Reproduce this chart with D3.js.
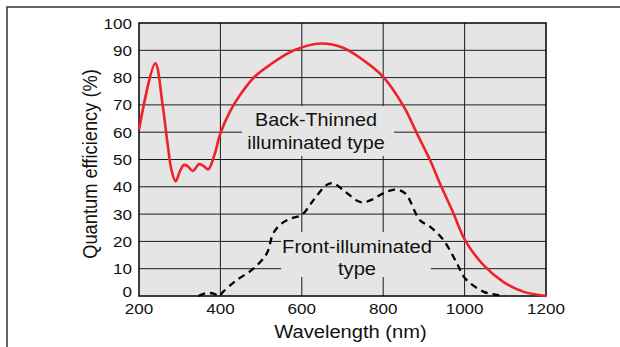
<!DOCTYPE html>
<html>
<head>
<meta charset="utf-8">
<script src="https://cdn.jsdelivr.net/npm/d3@7"></script>
<style>
  html, body { margin: 0; padding: 0; background: #fff; }
  svg { display: block; }
  text { font-family: "Liberation Sans", Arial, Helvetica, sans-serif; fill: #111; }
</style>
</head>
<body>
<svg id="chart" width="620" height="347"></svg>
<script>
// Spectral response of back-thinned vs front-illuminated CCDs
const backWavelength = [200, 240, 258, 270, 280, 290, 300, 310, 320, 332, 348, 360, 370, 385, 400, 425, 450, 484, 520, 581, 647, 700, 750, 800, 851, 884, 915, 940, 972, 1001, 1046, 1095, 1144, 1200];
const backQE         = [61, 85.2, 70, 56, 46, 42, 45.5, 48, 47.5, 45.8, 48.3, 47.5, 46.4, 51.5, 59.6, 68, 74, 80.3, 84.5, 90, 92.5, 91, 86.5, 80.3, 69.3, 59.2, 49.8, 41, 30.5, 20.5, 11.4, 5.2, 1.6, 0];

const frontWavelength = [346, 366, 385, 397, 407, 440, 481, 514, 530, 551, 575, 600, 628, 661, 677, 702, 735, 751, 775, 800, 829, 854, 890, 915, 948, 981, 1001, 1046, 1075, 1099];
const frontQE         = [0, 1.1, 0.8, 0, 1.6, 5.8, 10, 15.6, 23, 26.6, 28.5, 29.7, 35, 40.7, 41.3, 38.8, 35, 34.3, 35.5, 37.6, 39, 37.6, 27.8, 25.4, 20.5, 12, 6.5, 1.6, 0.5, 0];

const xTicks = [200, 400, 600, 800, 1000, 1200];
const yTicks = [0, 10, 20, 30, 40, 50, 60, 70, 80, 90, 100];

const xTitle = "Wavelength (nm)";
const yTitle = "Quantum efficiency (%)";
const backLabel = ["Back-Thinned", "illuminated type"];
const frontLabel = ["Front-illuminated", "type"];

const svg = d3.select("#chart");
const plot = { left: 139, right: 546, top: 23, bottom: 296 };
const stretch = 1.1; // type is set slightly wide

const x = d3.scaleLinear().domain([200, 1200]).range([plot.left, plot.right]);
const y = d3.scaleLinear().domain([0, 100]).range([plot.bottom, plot.top]);

// outer frame
svg.append("rect")
  .attr("x", 7).attr("y", 7).attr("width", 640).attr("height", 360)
  .attr("fill", "none").attr("stroke", "#333").attr("stroke-width", 1.5);

// plot background
svg.append("rect")
  .attr("x", plot.left).attr("y", plot.top)
  .attr("width", plot.right - plot.left).attr("height", plot.bottom - plot.top)
  .attr("fill", "#e5e5e5");

// grid
const grid = svg.append("g").attr("stroke", "#1c1c1c").attr("stroke-width", 1);
grid.selectAll("line.v").data(xTicks.slice(1, -1)).join("line")
  .attr("x1", d => x(d)).attr("x2", d => x(d))
  .attr("y1", plot.top).attr("y2", plot.bottom);
grid.selectAll("line.h").data(yTicks.slice(1, -1)).join("line")
  .attr("x1", plot.left).attr("x2", plot.right)
  .attr("y1", d => y(d)).attr("y2", d => y(d));

// stretched text helper
function label(g, tx, ty, str, size, anchor) {
  return g.append("text")
    .attr("transform", `translate(${tx},${ty}) scale(${stretch},1)`)
    .attr("text-anchor", anchor || "middle")
    .attr("font-size", size)
    .text(str);
}

// label panels that cover the grid
function panel(lines, cx, baselines, size, box) {
  svg.append("rect")
    .attr("x", box[0]).attr("y", box[1])
    .attr("width", box[2] - box[0]).attr("height", box[3] - box[1])
    .attr("fill", "#e5e5e5");
  lines.forEach((t, i) => label(svg, cx, baselines[i], t, size));
}
panel(backLabel, 316, [126, 148.5], 18, [242, 106, 394, 156]);
panel(frontLabel, 357, [253, 275], 18.3, [281, 232, 431, 277]);

// plot border
svg.append("rect")
  .attr("x", plot.left).attr("y", plot.top)
  .attr("width", plot.right - plot.left).attr("height", plot.bottom - plot.top)
  .attr("fill", "none").attr("stroke", "#000").attr("stroke-width", 1.5);

// curves
const line = d3.line().x(d => x(d[0])).y(d => y(d[1])).curve(d3.curveCatmullRom.alpha(0.5));

svg.append("path")
  .datum(d3.zip(frontWavelength, frontQE))
  .attr("d", line)
  .attr("fill", "none").attr("stroke", "#000")
  .attr("stroke-width", 2.3).attr("stroke-dasharray", "7,5");

svg.append("path")
  .datum(d3.zip(backWavelength, backQE))
  .attr("d", line)
  .attr("fill", "none").attr("stroke", "#ee2229")
  .attr("stroke-width", 2.6).attr("stroke-linejoin", "round");

// tick labels (the zero label is lifted clear of the first x label)
const tl = svg.append("g");
xTicks.forEach(t => label(tl, x(t), 314, t, 15.5));
yTicks.forEach(t => label(tl, 132, y(t) + 5.5 - (t === 0 ? 5 : 0), t, 15.5, "end"));

// axis titles
label(svg, 350.5, 338, xTitle, 18.3);
svg.append("text")
  .attr("transform", `translate(97,164) scale(${stretch},1) rotate(-90)`)
  .attr("text-anchor", "middle")
  .attr("font-size", 18.3)
  .text(yTitle);
</script>
</body>
</html>
